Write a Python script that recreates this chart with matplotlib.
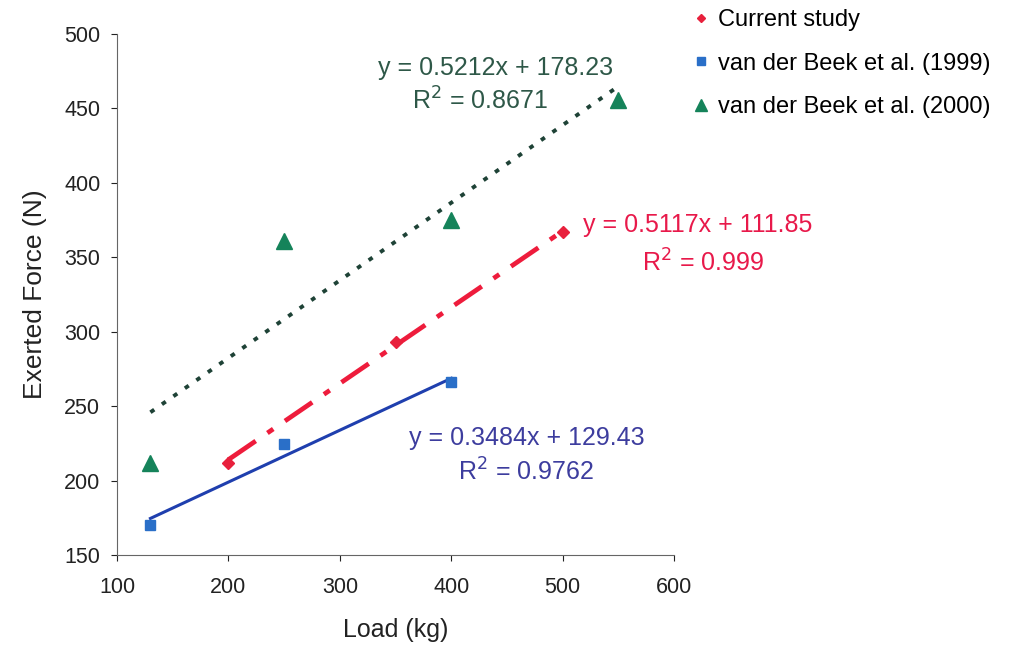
import numpy as np
import matplotlib.pyplot as plt

plt.rcParams['font.family'] = ['Liberation Sans', 'DejaVu Sans']

# data
cur_x = [200, 350, 500]
cur_y = [212, 293, 367]
b99_x = [130, 250, 400]
b99_y = [170, 225, 266]
b00_x = [130, 250, 400, 550]
b00_y = [212, 361, 375, 456]

# trend line coefficients (slope, intercept) as printed on the chart
cur_fit = [0.5117, 111.85]
b99_fit = [0.3484, 129.43]
b00_fit = [0.5212, 178.23]

labels = ['Current study', 'van der Beek et al. (1999)', 'van der Beek et al. (2000)']

fig = plt.figure(figsize=(10.13, 6.61), dpi=100)
ax = fig.add_axes([0.1155, 0.160, 0.55, 0.7886])

def trend(xs, fit):
    xx = np.array([min(xs), max(xs)])
    return xx, fit[0] * xx + fit[1]

xx, yy = trend(b00_x, b00_fit)
ax.plot(xx, yy, color='#1e4236', lw=2.8, ls=(0, (1.2, 2.4)), zorder=2)
xx, yy = trend(cur_x, cur_fit)
ax.plot(xx, yy, color='#ee1c3c', lw=3.4, ls=(0, (7, 3, 1.5, 3)), zorder=2)
xx, yy = trend(b99_x, b99_fit)
ax.plot(xx, yy, color='#1f3fae', lw=2.2, zorder=2)

h1, = ax.plot(cur_x, cur_y, 'D', color='#e8203c', ms=6, ls='none', zorder=3)
h2, = ax.plot(b99_x, b99_y, 's', color='#2a6fc8', ms=7.5, ls='none', zorder=3)
h3, = ax.plot(b00_x, b00_y, '^', color='#15835a', ms=12, ls='none', zorder=3)

fs = 18
ax.text(440, 477, 'y = 0.5212x + 178.23', color='#2e5848', fontsize=fs, ha='center', va='center')
ax.text(426, 455, 'R$^2$ = 0.8671', color='#2e5848', fontsize=fs, ha='center', va='center')
ax.text(518, 372, 'y = 0.5117x + 111.85', color='#e8194a', fontsize=fs, ha='left', va='center')
ax.text(626, 346, 'R$^2$ = 0.999', color='#e8194a', fontsize=fs, ha='center', va='center')
ax.text(468, 229, 'y = 0.3484x + 129.43', color='#3d3d9e', fontsize=fs, ha='center', va='center')
ax.text(467, 206, 'R$^2$ = 0.9762', color='#3d3d9e', fontsize=fs, ha='center', va='center')

ax.set_xlim(100, 600)
ax.set_ylim(150, 500)
ax.set_xticks(np.arange(100, 601, 100))
ax.set_yticks(np.arange(150, 501, 50))
ax.tick_params(labelsize=15.5, colors='#222222', length=4, width=0.8)
ax.tick_params(axis='x', pad=12)
ax.tick_params(axis='y', pad=8)
for s in ['top', 'right']:
    ax.spines[s].set_visible(False)
for s in ['left', 'bottom']:
    ax.spines[s].set_color('#666666')
    ax.spines[s].set_linewidth(0.8)
ax.set_xlabel('Load (kg)', fontsize=18, labelpad=14, color='#222222')
ax.set_ylabel('Exerted Force (N)', fontsize=19, labelpad=12, color='#222222')

fig.legend([h1, h2, h3], labels, loc='upper left', bbox_to_anchor=(0.671, 1.0),
           borderaxespad=0, frameon=False, fontsize=17, handletextpad=0.2,
           handlelength=1.0, labelspacing=0.9, markerscale=0.75)

fig.savefig('out.png', dpi=100)
